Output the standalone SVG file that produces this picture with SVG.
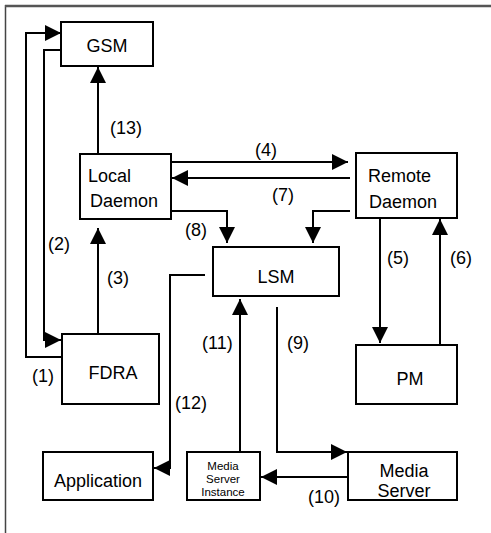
<svg xmlns="http://www.w3.org/2000/svg" width="491" height="533" viewBox="0 0 491 533">
<style>
.box{fill:#fff;stroke:#000;stroke-width:2}
.t{font-family:"Liberation Sans",Arial,sans-serif;font-size:18px;fill:#000}
.s{font-family:"Liberation Sans",Arial,sans-serif;font-size:11.5px;fill:#000}
.c{fill:none;stroke:#000;stroke-width:2}
</style>
<defs>
<marker id="ah" markerUnits="userSpaceOnUse" markerWidth="16" markerHeight="16" refX="16" refY="8" orient="auto">
<path d="M0,0 L16,8 L0,16 z" fill="#000"/>
</marker>
</defs>
<rect width="491" height="533" fill="#fff"/>
<g id="frame">
<line x1="5.5" y1="5" x2="5.5" y2="533" stroke="#444" stroke-width="1.5"/>
<line x1="5" y1="6" x2="491" y2="6" stroke="#555" stroke-width="2.5"/>
</g>
<g id="connectors">
<polyline class="c" points="61,357 26,357 26,33 61,33" marker-end="url(#ah)"/>
<polyline class="c" points="61,50 44,50 44,340 61,340" marker-end="url(#ah)"/>
<line class="c" x1="98" y1="334" x2="98" y2="228" marker-end="url(#ah)"/>
<line class="c" x1="98" y1="154" x2="98" y2="67" marker-end="url(#ah)"/>
<line class="c" x1="171" y1="162" x2="348" y2="162" marker-end="url(#ah)"/>
<line class="c" x1="350" y1="178" x2="172" y2="178" marker-end="url(#ah)"/>
<polyline class="c" points="171,211 227,211 227,243" marker-end="url(#ah)"/>
<polyline class="c" points="350,211 313,211 313,243" marker-end="url(#ah)"/>
<line class="c" x1="380" y1="218" x2="380" y2="343" marker-end="url(#ah)"/>
<line class="c" x1="440" y1="345" x2="440" y2="219" marker-end="url(#ah)"/>
<polyline class="c" points="277,307 277,452 347,452" marker-end="url(#ah)"/>
<line class="c" x1="348" y1="477" x2="261" y2="477" marker-end="url(#ah)"/>
<line class="c" x1="240" y1="451" x2="240" y2="299" marker-end="url(#ah)"/>
<polyline class="c" points="205,275 170,275 170,468 154,468" marker-end="url(#ah)"/>
</g>
<g id="labels">
<text class="t" x="110" y="134">(13)</text>
<text class="t" x="255" y="156">(4)</text>
<text class="t" x="272" y="201">(7)</text>
<text class="t" x="185" y="236">(8)</text>
<text class="t" x="48" y="250">(2)</text>
<text class="t" x="107" y="284">(3)</text>
<text class="t" x="387" y="264">(5)</text>
<text class="t" x="450" y="264">(6)</text>
<text class="t" x="202" y="349">(11)</text>
<text class="t" x="287" y="349">(9)</text>
<text class="t" x="32" y="382">(1)</text>
<text class="t" x="175" y="409">(12)</text>
<text class="t" x="308" y="503">(10)</text>
</g>
<g id="gsm">
<rect class="box" x="61" y="22" width="92" height="44"/>
<text class="t" x="107" y="52" text-anchor="middle" font-size="17">GSM</text>
</g>
<g id="local-daemon">
<rect class="box" x="80" y="154" width="91" height="65"/>
<text class="t" x="88" y="182">Local</text>
<text class="t" x="90" y="207">Daemon</text>
</g>
<g id="remote-daemon">
<rect class="box" x="356" y="153" width="101" height="65" stroke-width="1.6"/>
<text class="t" x="368" y="182">Remote</text>
<text class="t" x="369" y="208">Daemon</text>
</g>
<g id="lsm">
<rect class="box" x="213" y="247" width="126" height="49"/>
<text class="t" x="276" y="283" text-anchor="middle">LSM</text>
</g>
<g id="fdra">
<rect class="box" x="62" y="334" width="97" height="70"/>
<text class="t" x="113" y="379" text-anchor="middle" font-size="17">FDRA</text>
</g>
<g id="pm">
<rect class="box" x="356" y="345" width="101" height="59"/>
<text class="t" x="410" y="385" text-anchor="middle">PM</text>
</g>
<g id="application">
<rect class="box" x="43" y="452" width="110" height="48"/>
<text class="t" x="98" y="487" text-anchor="middle" font-size="19">Application</text>
</g>
<g id="media-server-instance">
<rect class="box" x="187" y="452" width="73" height="48"/>
<text class="s" x="223" y="469.5" text-anchor="middle">Media</text>
<text class="s" x="223" y="482.8" text-anchor="middle">Server</text>
<text class="s" x="223" y="496" text-anchor="middle">Instance</text>
</g>
<g id="media-server">
<rect class="box" x="348" y="452" width="109" height="48"/>
<text class="t" x="404" y="477" text-anchor="middle">Media</text>
<text class="t" x="404" y="497" text-anchor="middle">Server</text>
</g>
</svg>
